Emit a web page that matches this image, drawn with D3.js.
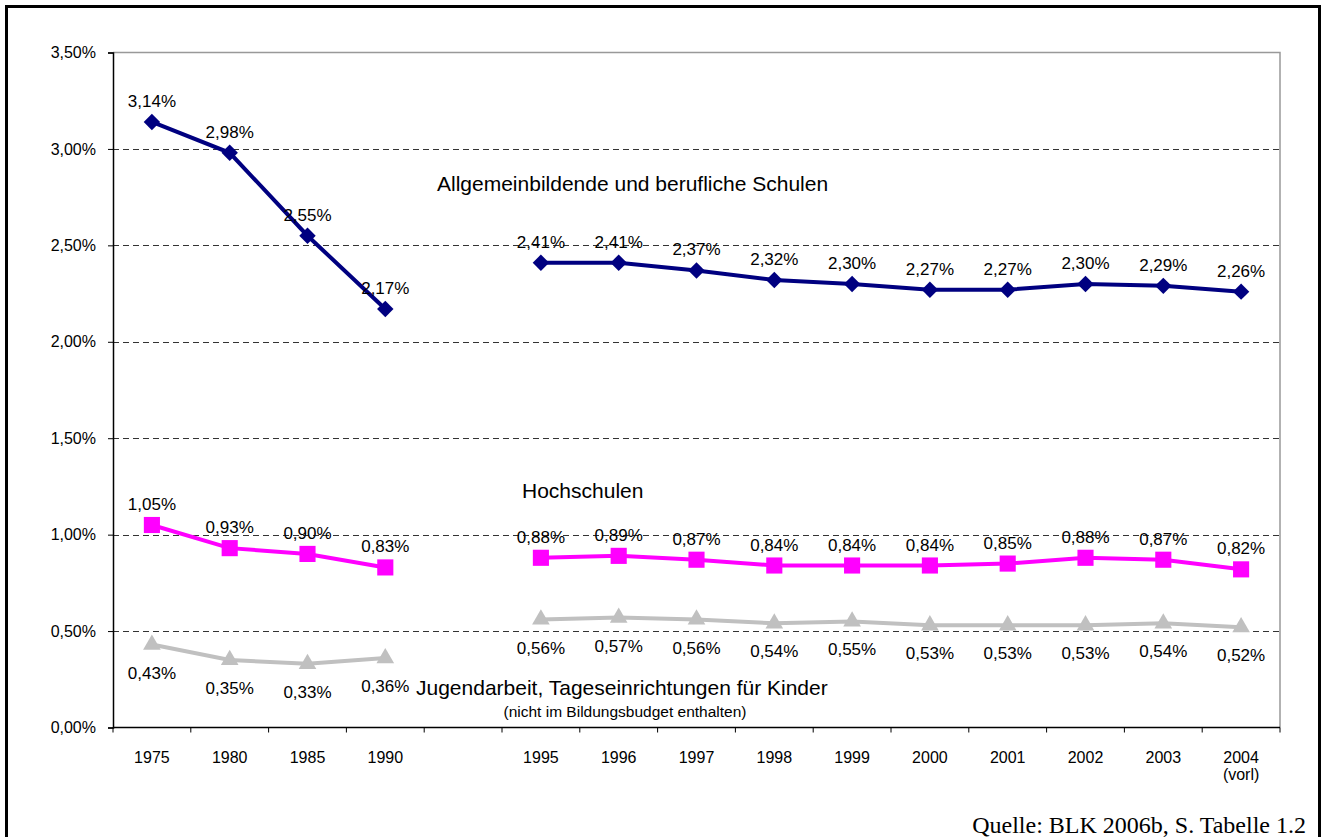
<!DOCTYPE html>
<html><head><meta charset="utf-8">
<script src="https://cdn.jsdelivr.net/npm/d3@7/dist/d3.min.js"></script>
<style>body{margin:0;background:#fff}svg{display:block}text{font-family:Arial,"Liberation Sans",sans-serif}</style>
</head><body><svg id="c" width="1323" height="837"></svg>
<script>
const categories = ["1975","1980","1985","1990","","1995","1996","1997","1998","1999","2000","2001","2002","2003","2004"];
const tickLabels = ["1975","1980","1985","1990","","1995","1996","1997","1998","1999","2000","2001","2002","2003","2004|(vorl)"];
const schulen = [3.14,2.98,2.55,2.17,null,2.41,2.41,2.37,2.32,2.30,2.27,2.27,2.30,2.29,2.26];
const hochschulen = [1.05,0.93,0.90,0.83,null,0.88,0.89,0.87,0.84,0.84,0.84,0.85,0.88,0.87,0.82];
const jugend = [0.43,0.35,0.33,0.36,null,0.56,0.57,0.56,0.54,0.55,0.53,0.53,0.53,0.54,0.52];
const yTicks = [0,0.5,1.0,1.5,2.0,2.5,3.0,3.5];

const svg = d3.select("#c");
const L=113,R=1280,T=52.5,B=727.5;
svg.append("rect").attr("x",6.5).attr("y",6.5).attr("width",1313).attr("height",840).attr("fill","none").attr("stroke","#000").attr("stroke-width",3);

const x = d3.scaleBand().domain(categories.map((c,i)=>i)).range([L,R]);
const y = d3.scaleLinear().domain([0,3.5]).range([B,T]);
const fmt = v => v.toFixed(2).replace(".",",")+"%";

// gridlines
svg.append("g").selectAll("line").data(yTicks.filter(v=>v>0&&v<3.5)).join("line")
  .attr("x1",L).attr("x2",R).attr("y1",d=>Math.round(y(d))+0.5).attr("y2",d=>Math.round(y(d))+0.5)
  .attr("stroke","#333").attr("stroke-dasharray","6,4").attr("stroke-width",1);
// plot border top/right
svg.append("path").attr("d",`M${L},${T}H${R}V${B}`).attr("fill","none").attr("stroke","#999").attr("stroke-width",1.5);

// y axis
const ya = svg.append("g").attr("transform",`translate(${L},0)`)
  .call(d3.axisLeft(y).tickValues(yTicks).tickSize(5).tickFormat(fmt));
ya.attr("font-family",null).attr("font-size",16);
ya.select(".domain").attr("stroke","#000").attr("stroke-width",1.5);
ya.selectAll("text").attr("font-size",16).attr("fill","#000").attr("dx",-9);

// x axis
const xa = svg.append("g").attr("transform",`translate(0,${B})`);
xa.append("line").attr("x1",L).attr("x2",R).attr("stroke","#000").attr("stroke-width",1.5);
xa.selectAll("line.t").data(d3.range(categories.length+1)).join("line").attr("class","t")
  .attr("x1",i=>L+i*x.step()).attr("x2",i=>L+i*x.step()).attr("y1",0).attr("y2",5).attr("stroke","#000");
xa.selectAll("text").data(tickLabels).join("text")
  .attr("x",(d,i)=>x(i)+x.bandwidth()/2).attr("y",35).attr("text-anchor","middle").attr("font-size",16)
  .each(function(d){const parts=d.split("|");const t=d3.select(this);
    parts.forEach((p,k)=>t.append("tspan").attr("x",t.attr("x")).attr("dy",k?17:0).text(p));});

const cx = i => x(i)+x.bandwidth()/2;
function series(data,color,width,marker,size,rot,labelDy){
  const g=svg.append("g");
  g.append("path").datum(data).attr("fill","none").attr("stroke",color).attr("stroke-width",width)
   .attr("d",d3.line().defined(d=>d!=null).x((d,i)=>cx(i)).y(d=>y(d)));
  const pts=data.map((v,i)=>({v,i})).filter(d=>d.v!=null);
  g.selectAll("path.m").data(pts).join("path").attr("class","m")
   .attr("d",d3.symbol().type(marker).size(size))
   .attr("transform",d=>`translate(${cx(d.i)},${y(d.v)}) rotate(${rot})`)
   .attr("fill",color);
  g.selectAll("text").data(pts).join("text").attr("x",d=>cx(d.i)).attr("y",d=>y(d.v)+labelDy)
   .attr("text-anchor","middle").attr("font-size",17).attr("fill","#000").text(d=>fmt(d.v));
}
series(jugend,"#C0C0C0",4,d3.symbolTriangle,135,0,34);
series(hochschulen,"#FF00FF",4,d3.symbolSquare,260,0,-15);
series(schulen,"#000080",4,d3.symbolSquare,135,45,-15);

svg.append("text").attr("x",437).attr("y",191).attr("font-size",21).text("Allgemeinbildende und berufliche Schulen");
svg.append("text").attr("x",522).attr("y",498).attr("font-size",21).text("Hochschulen");
svg.append("text").attr("x",416).attr("y",695).attr("font-size",21).text("Jugendarbeit, Tageseinrichtungen für Kinder");
svg.append("text").attr("x",625).attr("y",717).attr("font-size",15.5).attr("text-anchor","middle").text("(nicht im Bildungsbudget enthalten)");
svg.append("text").attr("x",1306).attr("y",833).attr("font-size",24).attr("text-anchor","end")
  .style("font-family","'Liberation Serif','Times New Roman',serif").text("Quelle: BLK 2006b, S. Tabelle 1.2");
</script></body></html>
